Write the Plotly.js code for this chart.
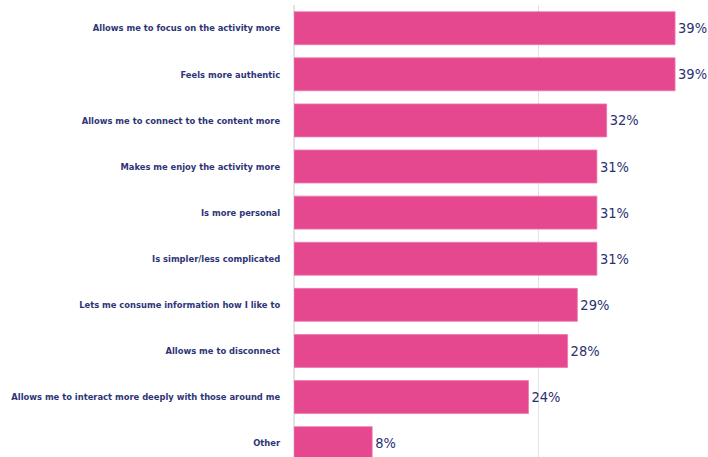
<!DOCTYPE html>
<html>
<head>
<meta charset="utf-8">
<script src="https://cdn.plot.ly/plotly-3.0.1.min.js"></script>
<style>html,body{margin:0;padding:0;background:#fff;}#chart{width:708px;height:457px;}</style>
</head>
<body>
<div id="chart"></div>
<script>
const categories = [
  "Allows me to focus on the activity more",
  "Feels more authentic",
  "Allows me to connect to the content more",
  "Makes me enjoy the activity more",
  "Is more personal",
  "Is simpler/less complicated",
  "Lets me consume information how I like to",
  "Allows me to disconnect",
  "Allows me to interact more deeply with those around me",
  "Other"
];
const values = [39, 39, 32, 31, 31, 31, 29, 28, 24, 8];
const valueLabels = ["39%", "39%", "32%", "31%", "31%", "31%", "29%", "28%", "24%", "8%"];

const trace = {
  type: "bar",
  orientation: "h",
  y: categories,
  x: values,
  text: valueLabels,
  textposition: "outside",
  cliponaxis: false,
  textfont: {family: "DejaVu Sans Condensed, sans-serif", size: 14.5, color: "#2b3070"},
  marker: {color: "#e6488f", line: {color: "#ee78ae", width: 0.8}},
  hoverinfo: "none"
};

const layout = {
  width: 708,
  height: 457,
  margin: {l: 294, r: 0, t: 5, b: 0, pad: 0},
  paper_bgcolor: "#ffffff",
  plot_bgcolor: "#ffffff",
  showlegend: false,
  bargap: 0.285,
  xaxis: {
    range: [0, 42.37],
    tickvals: [25],
    showticklabels: false,
    showgrid: true,
    gridcolor: "#e3e3e6",
    gridwidth: 1.5,
    zeroline: true,
    zerolinecolor: "#e3e3e6",
    zerolinewidth: 2,
    showline: false,
    fixedrange: true
  },
  yaxis: {
    type: "category",
    range: [9.30, -0.503],
    ticks: "outside",
    ticklen: 11,
    tickcolor: "rgba(0,0,0,0)",
    tickfont: {family: "DejaVu Sans Condensed, sans-serif", size: 9.3, color: "#2e3577", weight: "bold"},
    showgrid: false,
    showline: false,
    zeroline: false,
    fixedrange: true
  }
};

Plotly.newPlot("chart", [trace], layout, {displayModeBar: false, staticPlot: true});
</script>
</body>
</html>
